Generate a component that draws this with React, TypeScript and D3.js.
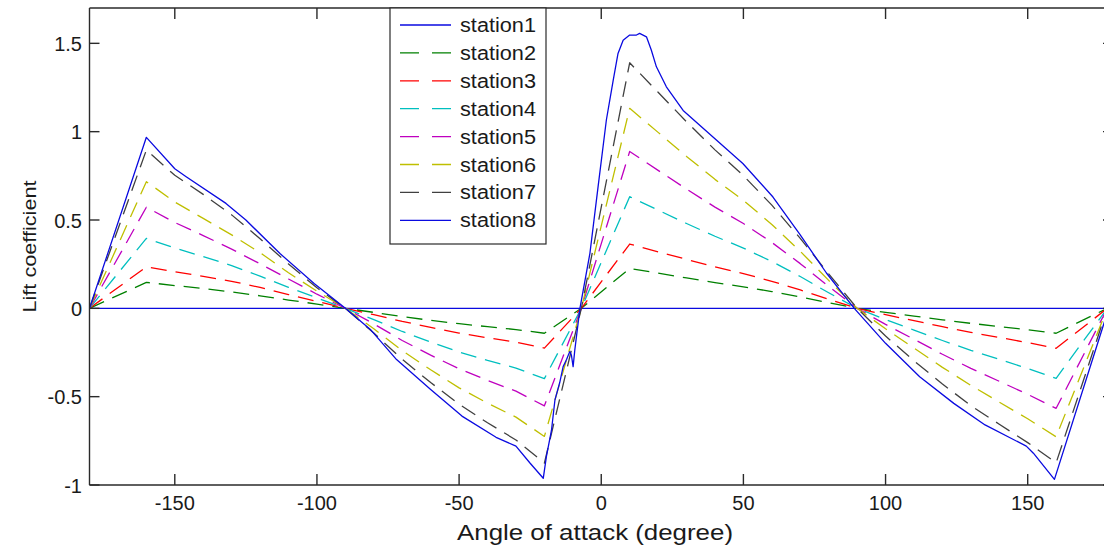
import React from 'react';
import * as d3 from 'd3';

const xTicks = [-150, -100, -50, 0, 50, 100, 150];
const yTicks = [-1, -0.5, 0, 0.5, 1, 1.5];
const xTickLabels = ['-150', '-100', '-50', '0', '50', '100', '150'];
const yTickLabels = ['-1', '-0.5', '0', '0.5', '1', '1.5'];

const stationNames = ['station1', 'station2', 'station3', 'station4', 'station5', 'station6', 'station7', 'station8'];
const stationColors = ['#0a0ae0', '#008000', '#ff0000', '#00bfbf', '#bf00bf', '#bfbf00', '#404040', '#0a0ae0'];
const stationDashed = [false, true, true, true, true, true, true, false];

// shared angle grid (degrees) for stations 1-7
const angles = [-180, -160, -150, -140, -130, -120, -110, -100, -90, -80, -70, -60, -50, -40, -30, -20, -7,
  10, 20, 30, 40, 50, 60, 70, 80, 90, 100, 110, 120, 130, 140, 150, 160, 178, 180];

const station1 = [0, 0, 0, 0, 0, 0, 0, 0, 0, 0, 0, 0, 0, 0, 0, 0, 0,
  0, 0, 0, 0, 0, 0, 0, 0, 0, 0, 0, 0, 0, 0, 0, 0, 0, 0];
const station2 = [0, 0.147, 0.129, 0.112, 0.093, 0.071, 0.047, 0.024, 0, -0.023, -0.047, -0.068, -0.087, -0.104, -0.120, -0.141, 0,
  0.226, 0.199, 0.172, 0.146, 0.122, 0.095, 0.064, 0.032, 0, -0.023, -0.044, -0.065, -0.085, -0.103, -0.121, -0.141, 0, 0];
const station3 = [0, 0.235, 0.207, 0.181, 0.153, 0.118, 0.078, 0.039, 0, -0.036, -0.074, -0.108, -0.140, -0.167, -0.191, -0.225, 0,
  0.364, 0.320, 0.277, 0.235, 0.197, 0.153, 0.104, 0.051, 0, -0.036, -0.070, -0.104, -0.136, -0.165, -0.194, -0.226, 0, 0];
const station4 = [0, 0.396, 0.341, 0.293, 0.242, 0.182, 0.119, 0.059, 0, -0.064, -0.131, -0.191, -0.247, -0.295, -0.338, -0.398, 0,
  0.632, 0.556, 0.480, 0.408, 0.341, 0.265, 0.180, 0.088, 0, -0.063, -0.123, -0.182, -0.238, -0.289, -0.341, -0.396, 0, 0];
const station5 = [0, 0.572, 0.486, 0.412, 0.335, 0.252, 0.166, 0.080, 0, -0.088, -0.182, -0.265, -0.342, -0.408, -0.469, -0.552, 0,
  0.888, 0.781, 0.675, 0.573, 0.480, 0.373, 0.253, 0.124, 0, -0.091, -0.175, -0.260, -0.340, -0.413, -0.487, -0.566, 0, 0];
const station6 = [0, 0.717, 0.602, 0.509, 0.416, 0.315, 0.201, 0.097, 0, -0.116, -0.239, -0.348, -0.450, -0.537, -0.616, -0.725, 0,
  1.132, 0.996, 0.860, 0.730, 0.611, 0.475, 0.323, 0.158, 0, -0.116, -0.225, -0.334, -0.436, -0.531, -0.625, -0.727, 0, 0];
const station7 = [0, 0.896, 0.753, 0.645, 0.529, 0.394, 0.251, 0.116, 0, -0.140, -0.289, -0.420, -0.543, -0.648, -0.745, -0.876, 0,
  1.390, 1.223, 1.056, 0.897, 0.751, 0.584, 0.396, 0.195, 0, -0.157, -0.297, -0.428, -0.551, -0.656, -0.760, -0.874, 0, 0];

// station8 has its own, finer angle grid
const angles8 = [-180, -160, -150, -146, -132, -125, -113, -101, -90,
  -81, -72, -60, -49, -37, -30, -25, -20.4,
  -19.3, -17.5, -16.3, -14.6, -13.4, -12.2, -11.1, -10.5, -9.9, -9.3, -7.5,
  -4, -1.1, 1.8, 4.2, 5.9, 7.7, 10, 12.4, 13.5, 15.9, 17.6, 19.4, 22.9, 28.8, 39.3, 49.8, 60.4, 69.8, 79.2, 89,
  100, 112, 124, 135, 149.5, 152, 159.4, 178.5, 180];
const station8 = [0, 0.968, 0.79, 0.745, 0.594, 0.50, 0.31, 0.14, 0,
  -0.123, -0.29, -0.46, -0.61, -0.73, -0.78, -0.877, -0.962,
  -0.84, -0.69, -0.52, -0.42, -0.33, -0.29, -0.245, -0.264, -0.33, -0.236, 0,
  0.31, 0.69, 1.066, 1.29, 1.443, 1.518, 1.547, 1.547, 1.556, 1.537, 1.462, 1.367, 1.254, 1.12, 0.97, 0.82, 0.63, 0.42, 0.20, 0,
  -0.198, -0.387, -0.538, -0.66, -0.78, -0.82, -0.968, 0, 0];

const stationAngles = [angles, angles, angles, angles, angles, angles, angles, angles8];
const stationValues = [station1, station2, station3, station4, station5, station6, station7, station8];

const FONT = '"Liberation Sans", Arial, Helvetica, sans-serif';

export default function App() {
  const W = 1104;
  const H = 556;
  const left = 89.5, right = 1113, top = 8, bottom = 485;
  const x = d3.scaleLinear().domain([-180, 180]).range([left, right]);
  const y = d3.scaleLinear().domain([-1, 1.7]).range([bottom, top]);
  const line = d3.line<[number, number]>().x(d => x(d[0])).y(d => y(d[1]));

  const series = stationValues.map((vals, i) => vals.map((v, j) => [stationAngles[i][j], v] as [number, number]));

  const axisColor = '#2a2a2a';
  const textColor = '#1a1a1a';

  const legX = 390, legY = 8, legW = 156, legH = 236;
  const legRow0 = 25, legStep = 27.9;

  return (
    <svg width={W} height={H} style={{ position: 'absolute', left: 0, top: 0, background: '#fff' }}
      xmlns="http://www.w3.org/2000/svg">
      <rect x={0} y={0} width={W} height={H} fill="#ffffff" />
      <defs>
        <clipPath id="plotclip">
          <rect x={left} y={top} width={right - left} height={bottom - top} />
        </clipPath>
      </defs>

      {/* data lines */}
      <g clipPath="url(#plotclip)" fill="none">
        {series.map((pts, i) => (
          <path key={i} d={line(pts) || ''} stroke={stationColors[i]} strokeWidth={1.3}
            strokeDasharray={stationDashed[i] ? '16,9' : undefined} strokeLinejoin="round" />
        ))}
      </g>

      {/* axes box */}
      <g stroke={axisColor} strokeWidth={1.4} fill="none">
        <line x1={left} y1={top} x2={right} y2={top} />
        <line x1={left} y1={bottom} x2={right} y2={bottom} />
        <line x1={left} y1={top} x2={left} y2={bottom} />
        <line x1={right} y1={top} x2={right} y2={bottom} />
        {xTicks.map(t => (
          <g key={'xt' + t}>
            <line x1={x(t)} y1={bottom} x2={x(t)} y2={bottom - 11} />
            <line x1={x(t)} y1={top} x2={x(t)} y2={top + 11} />
          </g>
        ))}
        {yTicks.map(t => (
          <g key={'yt' + t}>
            <line x1={left} y1={y(t)} x2={left + 10} y2={y(t)} />
            <line x1={right} y1={y(t)} x2={right - 10} y2={y(t)} />
          </g>
        ))}
      </g>

      {/* tick labels */}
      <g fill={textColor} fontFamily={FONT} fontSize={20}>
        {xTicks.map((t, i) => (
          <text key={'xl' + t} x={x(t)} y={510} textAnchor="middle">{xTickLabels[i]}</text>
        ))}
        {yTicks.map((t, i) => (
          <text key={'yl' + t} x={82} y={y(t) + 7.5} textAnchor="end">{yTickLabels[i]}</text>
        ))}
      </g>

      {/* axis titles */}
      <text x={595} y={540} textAnchor="middle" fontFamily={FONT} fontSize={22} fill={textColor}
        textLength={276} lengthAdjust="spacingAndGlyphs">Angle of attack (degree)</text>
      <text transform={`translate(36,${(top + bottom) / 2}) rotate(-90)`} textAnchor="middle" fontFamily={FONT}
        fontSize={19} fill={textColor} textLength={132} lengthAdjust="spacingAndGlyphs">Lift coefficient</text>

      {/* legend */}
      <g>
        <rect x={legX} y={legY} width={legW} height={legH} fill="#ffffff" stroke={axisColor} strokeWidth={1.2} />
        {stationNames.map((name, i) => {
          const ly = legRow0 + i * legStep;
          return (
            <g key={name}>
              <line x1={400} y1={ly} x2={451} y2={ly} stroke={stationColors[i]} strokeWidth={1.3}
                strokeDasharray={stationDashed[i] ? '19,13' : undefined} />
              <text x={460} y={ly + 7} fontFamily={FONT} fontSize={20} fill={textColor}
                textLength={76} lengthAdjust="spacingAndGlyphs">{name}</text>
            </g>
          );
        })}
      </g>
    </svg>
  );
}
